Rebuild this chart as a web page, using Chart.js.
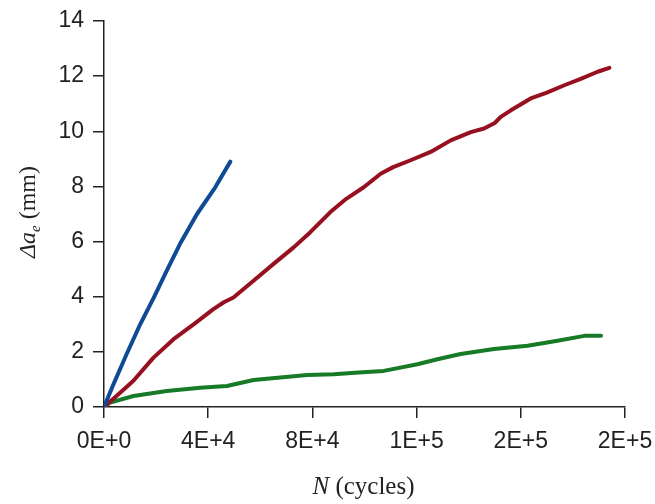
<!DOCTYPE html>
<html>
<head>
<meta charset="utf-8">
<script src="https://cdn.jsdelivr.net/npm/chart.js@4.4.1/dist/chart.umd.min.js"></script>
<style>
  html, body { margin: 0; padding: 0; background: #fff; }
  #wrap { width: 655px; height: 504px; }
</style>
</head>
<body>
<div id="wrap"><canvas id="chart"></canvas></div>
<script>
// readings: [N cycles, delta a_e mm]
const blueSeries = [
  [0, 0], [3600, 0.82], [8700, 1.92], [13900, 3.0], [19300, 4.0], [24100, 4.95],
  [29200, 5.92], [35700, 7.0], [42700, 7.97], [48500, 8.9]
];
const redSeries = [
  [0, 0], [5000, 0.42], [11300, 0.95], [19000, 1.79], [26700, 2.46], [34400, 3.0],
  [42000, 3.55], [46000, 3.8], [49700, 3.97], [57400, 4.58], [65100, 5.19],
  [72800, 5.79], [79200, 6.34], [86900, 7.07], [93000, 7.55], [99700, 7.97],
  [106200, 8.46], [111000, 8.7], [117700, 8.95], [125400, 9.25], [133100, 9.67],
  [140800, 9.97], [145900, 10.1], [150000, 10.3], [152300, 10.52], [156200, 10.76],
  [163800, 11.19], [170000, 11.4], [176700, 11.67], [183000, 11.9], [189500, 12.16],
  [194000, 12.3]
];
const greenSeries = [
  [0, 0], [2300, 0.16], [11300, 0.4], [24100, 0.58], [36900, 0.7], [47200, 0.76],
  [57400, 0.98], [67700, 1.07], [78000, 1.16], [88200, 1.19], [97800, 1.25],
  [107400, 1.31], [120300, 1.55], [128000, 1.73], [136900, 1.92], [149700, 2.1],
  [162600, 2.22], [174100, 2.4], [184400, 2.58], [190800, 2.58]
];
const xTickLabels = ['0E+0', '4E+4', '8E+4', '1E+5', '2E+5', '2E+5'];
const xMax = 200000, xStep = 40000;
const yMax = 14, yStep = 2;

const toPoints = arr => arr.map(p => ({ x: p[0], y: p[1] }));

const line = (data, color) => ({
  data: toPoints(data),
  borderColor: color,
  backgroundColor: color,
  borderWidth: 4,
  pointRadius: 0,
  showLine: true,
  tension: 0,
  borderCapStyle: 'round',
  borderJoinStyle: 'round'
});

// draw a run of mixed-style text pieces centred on (0,0)
function drawParts(ctx, parts) {
  let total = 0;
  parts.forEach(p => { ctx.font = p.font; p.w = ctx.measureText(p.t).width; total += p.w; });
  let x = -total / 2;
  parts.forEach(p => {
    ctx.font = p.font;
    ctx.fillText(p.t, x, p.dy);
    x += p.w;
  });
}

// axis titles with italics / subscript
const axisTitles = {
  id: 'axisTitles',
  afterDraw(chart) {
    const ctx = chart.ctx;
    const area = chart.chartArea;
    ctx.save();
    ctx.fillStyle = '#222';
    ctx.textBaseline = 'alphabetic';

    ctx.save();
    ctx.translate(35, (area.top + area.bottom) / 2 - 2);
    ctx.rotate(-Math.PI / 2);
    drawParts(ctx, [
      { t: '\u0394a', font: 'italic 24px "Liberation Serif"', dy: 0 },
      { t: 'e', font: 'italic 15px "Liberation Serif"', dy: 5 },
      { t: ' (mm)', font: '24px "Liberation Serif"', dy: 0 }
    ]);
    ctx.restore();

    ctx.save();
    ctx.translate((area.left + area.right) / 2 - 1, 494);
    drawParts(ctx, [
      { t: 'N', font: 'italic 25px "Liberation Serif"', dy: 0 },
      { t: ' (cycles)', font: '25px "Liberation Serif"', dy: 0 }
    ]);
    ctx.restore();

    ctx.restore();
  }
};

new Chart(document.getElementById('chart'), {
  type: 'scatter',
  data: {
    datasets: [
      line(blueSeries, '#0f4b94'),
      line(redSeries, '#96101f'),
      line(greenSeries, '#167a26')
    ]
  },
  options: {
    responsive: true,
    maintainAspectRatio: false,
    animation: false,
    layout: { padding: { left: 0, right: 30, top: 21, bottom: 0 } },
    plugins: { legend: { display: false }, tooltip: { enabled: false } },
    scales: {
      x: {
        type: 'linear',
        min: 0,
        max: xMax,
        afterBuildTicks: axis => {
          axis.ticks = xTickLabels.map((l, i) => ({ value: i * xStep }));
        },
        afterFit: scale => {
          scale.height = 97;
          scale.paddingLeft = 0;
          scale.paddingRight = 0;
        },
        grid: { drawOnChartArea: false, drawTicks: true, tickLength: 11, color: '#222', lineWidth: 1.5 },
        border: { color: '#222', width: 1.5 },
        ticks: {
          padding: 10,
          color: '#222',
          font: { family: '"Liberation Sans", Arial, sans-serif', size: 23 },
          callback: (v, i) => xTickLabels[i]
        }
      },
      y: {
        min: 0,
        max: yMax,
        afterFit: scale => {
          scale.width = 104;
          scale.paddingTop = 0;
          scale.paddingBottom = 0;
        },
        grid: { drawOnChartArea: false, drawTicks: true, tickLength: 11, color: '#222', lineWidth: 1.5 },
        border: { color: '#222', width: 1.5 },
        ticks: {
          stepSize: yStep,
          padding: 9,
          color: '#222',
          font: { family: '"Liberation Sans", Arial, sans-serif', size: 23 }
        }
      }
    }
  },
  plugins: [axisTitles]
});
</script>
</body>
</html>
